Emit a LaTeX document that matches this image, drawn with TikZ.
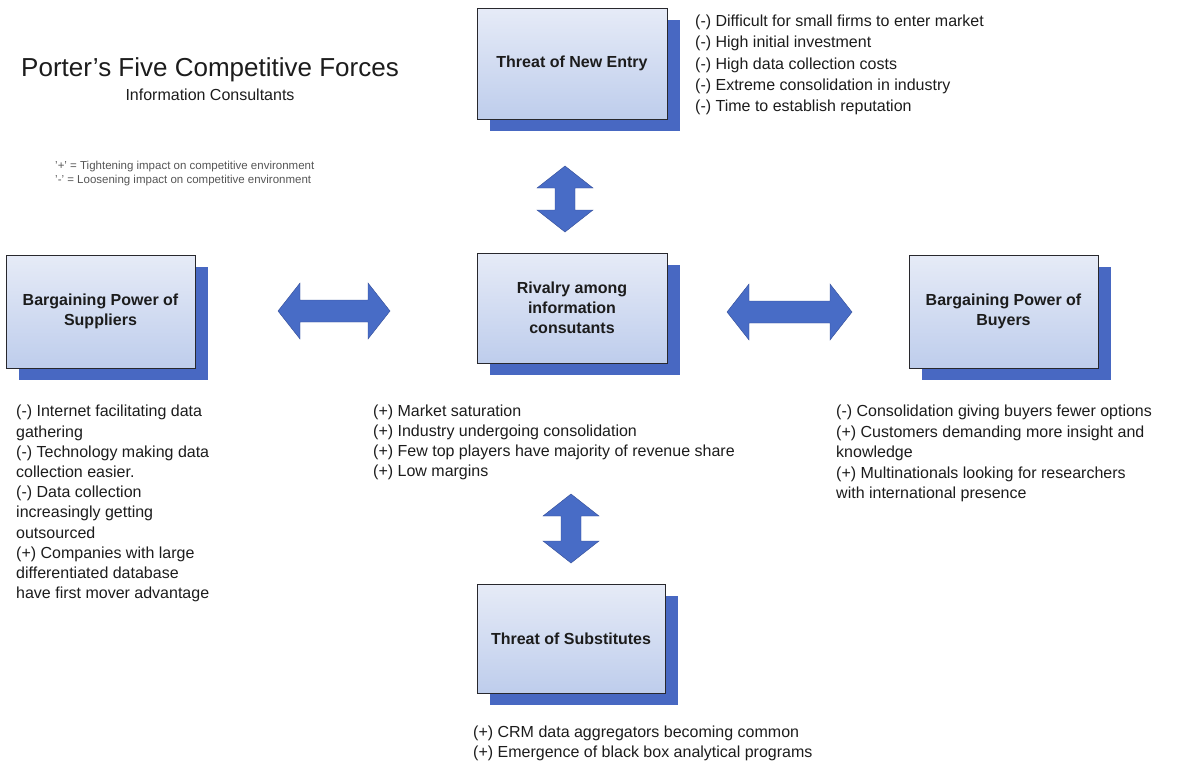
\documentclass[tikz,border=0pt]{standalone}
\usepackage{fontspec}
\setmainfont{Liberation Sans}
\usetikzlibrary{calc,backgrounds}

\definecolor{boxtop}{RGB}{230,235,247}
\definecolor{boxbot}{RGB}{190,205,236}
\definecolor{shadeblue}{RGB}{72,104,194}
\definecolor{arrowblue}{RGB}{72,108,198}
\definecolor{arrowedge}{RGB}{50,76,150}
\definecolor{inkgray}{RGB}{28,28,28}
\definecolor{notegray}{RGB}{85,85,85}
\definecolor{edgegray}{RGB}{40,40,45}

% horizontal fat double arrow between two coordinates (left, right)
\newcommand\hfat[2]{%
  \filldraw[fatarrow] (#1) -- ($(#1)+(22,-28)$) -- ($(#1)+(22,-11)$)
    -- ($(#2)+(-22,-11)$) -- ($(#2)+(-22,-28)$) -- (#2)
    -- ($(#2)+(-22,28)$) -- ($(#2)+(-22,11)$)
    -- ($(#1)+(22,11)$) -- ($(#1)+(22,28)$) -- cycle;}
% vertical fat double arrow between two coordinates (top, bottom)
\newcommand\vfat[2]{%
  \filldraw[fatarrow] (#1) -- ($(#1)+(28,22)$) -- ($(#1)+(10,22)$)
    -- ($(#2)+(10,-22)$) -- ($(#2)+(28,-22)$) -- (#2)
    -- ($(#2)+(-28,-22)$) -- ($(#2)+(-10,-22)$)
    -- ($(#1)+(-10,22)$) -- ($(#1)+(-28,22)$) -- cycle;}

\tikzset{
  forcebox/.style={draw=edgegray, line width=0.9pt, top color=boxtop,
    bottom color=boxbot, align=center, text=inkgray, inner sep=2pt,
    font=\bfseries\fontsize{16}{20}\selectfont},
  boxshadow/.style={fill=shadeblue},
  fatarrow/.style={fill=arrowblue, draw=arrowedge, line width=0.4pt},
  listtext/.style={anchor=north west, align=left, inner sep=0pt, text=inkgray},
}

\begin{document}
\begin{tikzpicture}[x=1pt, y=-1pt]
\useasboundingbox (0,0) rectangle (1190,763);

% title and legend
\node[anchor=base, inner sep=0pt, text=inkgray, font=\fontsize{26}{30}\selectfont]
  (title) at (210,76) {Porter’s Five Competitive Forces};
\node[anchor=base, inner sep=0pt, text=inkgray, font=\fontsize{16}{20}\selectfont]
  (subtitle) at (210,100) {Information Consultants};
\node[listtext, text=notegray, font=\fontsize{11.5}{14}\selectfont] (legend) at (55,161)
  {'+' = Tightening impact on competitive environment\\
   '-' = Loosening impact on competitive environment};

% the five forces
\node[forcebox, minimum width=190pt, minimum height=111pt] (ent) at (572,63.5)
  {Threat of New Entry};
\node[forcebox, minimum width=189pt, minimum height=113pt] (sup) at (100.5,311.5)
  {Bargaining Power of\\Suppliers};
\node[forcebox, minimum width=190pt, minimum height=110pt] (riv) at (572,308)
  {Rivalry among\\information\\consutants};
\node[forcebox, minimum width=189pt, minimum height=113pt] (buy) at (1003.5,311.5)
  {Bargaining Power of\\Buyers};
\node[forcebox, minimum width=188pt, minimum height=109pt] (sub) at (571,638.5)
  {Threat of Substitutes};

% offset shadows behind the boxes
\begin{scope}[on background layer]
  \foreach \b in {ent,sup,riv,buy,sub}
    \fill[boxshadow] ($(\b.south west)+(13,12)$) rectangle ($(\b.north east)+(13,12)$);
\end{scope}

% arrow end points
\coordinate (supL) at (278,311);
\coordinate (supR) at (390,311);
\coordinate (buyL) at (727,312);
\coordinate (buyR) at (852,312);
\coordinate (entT) at (565,166);
\coordinate (entB) at (565,232);
\coordinate (subT) at (571,494);
\coordinate (subB) at (571,563);

\hfat{supL}{supR}
\hfat{buyL}{buyR}
\vfat{entT}{entB}
\vfat{subT}{subB}

% factor lists
\node[listtext, font=\fontsize{16}{21.2}\selectfont] (entlist) at (695,15)
  {(-) Difficult for small firms to enter market\\
   (-) High initial investment\\
   (-) High data collection costs\\
   (-) Extreme consolidation in industry\\
   (-) Time to establish reputation};
\node[listtext, font=\fontsize{16}{20.2}\selectfont] (suplist) at (16,405)
  {(-) Internet facilitating data\\
   gathering\\
   (-) Technology making data\\
   collection easier.\\
   (-) Data collection\\
   increasingly getting\\
   outsourced\\
   (+) Companies with large\\
   differentiated database\\
   have first mover advantage};
\node[listtext, font=\fontsize{16}{20}\selectfont] (rivlist) at (373,405)
  {(+) Market saturation\\
   (+) Industry undergoing consolidation\\
   (+) Few top players have majority of revenue share\\
   (+) Low margins};
\node[listtext, font=\fontsize{16}{20.5}\selectfont] (buylist) at (836,405)
  {(-) Consolidation giving buyers fewer options\\
   (+) Customers demanding more insight and\\
   knowledge\\
   (+) Multinationals looking for researchers\\
   with international presence};
\node[listtext, font=\fontsize{16}{20}\selectfont] (sublist) at (473,726)
  {(+) CRM data aggregators becoming common\\
   (+) Emergence of black box analytical programs};
\end{tikzpicture}
\end{document}
